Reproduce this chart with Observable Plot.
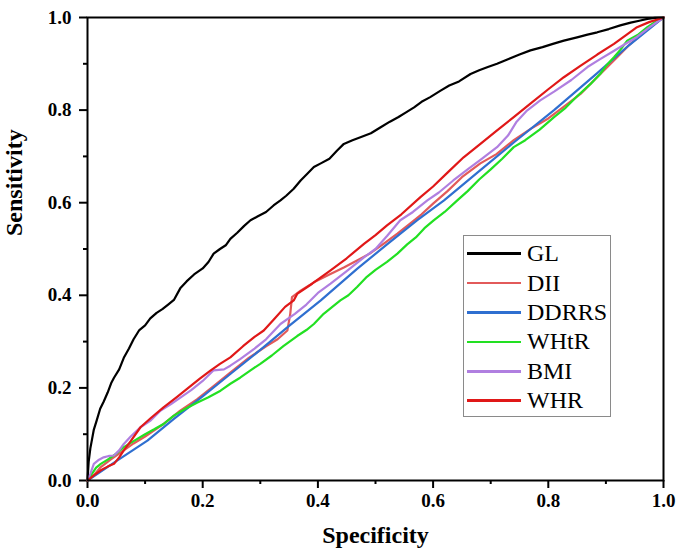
<!DOCTYPE html>
<html><head><meta charset="utf-8">
<script src="https://cdn.jsdelivr.net/npm/d3@7"></script>
<script src="https://cdn.jsdelivr.net/npm/@observablehq/plot@0.6"></script>
<style>
body{margin:0;background:#fff}
#wrap{position:relative;width:685px;height:559px}
#legend{position:absolute;left:463px;top:235px;width:148px;height:182px;border:1px solid #8a8a8a;box-sizing:border-box;padding-top:3px;background:#fff;font-family:"Liberation Serif",serif;font-size:24px;color:#000}
#legend .row{display:flex;align-items:center;height:29.4px}
#legend .sw{width:54px;height:2.5px;margin-left:3px;margin-right:6px}
</style>
</head><body><div id="wrap"></div>
<script>
const names = ["GL","DII","DDRRS","WHtR","BMI","WHR"];
const colors = ["#000000","#e25a5a","#2f6fd0","#22e022","#b07fe0","#e01818"];
const majorTicks = [0,0.2,0.4,0.6,0.8,1.0];
const minorTicks = [0.1,0.3,0.5,0.7,0.9];

const GL = [[0,0],[0.002,0.04],[0.005,0.07],[0.008,0.09],[0.011,0.11],[0.016,0.13],[0.022,0.155],[0.028,0.17],[0.035,0.19],[0.041,0.21],[0.046,0.222],[0.055,0.24],[0.063,0.265],[0.072,0.285],[0.08,0.305],[0.09,0.325],[0.1,0.335],[0.109,0.35],[0.12,0.362],[0.13,0.37],[0.14,0.38],[0.15,0.39],[0.161,0.415],[0.172,0.43],[0.185,0.445],[0.2,0.458],[0.21,0.472],[0.219,0.49],[0.23,0.5],[0.24,0.508],[0.248,0.522],[0.26,0.535],[0.272,0.55],[0.283,0.562],[0.295,0.57],[0.31,0.58],[0.323,0.594],[0.335,0.605],[0.345,0.615],[0.358,0.63],[0.37,0.648],[0.382,0.663],[0.393,0.677],[0.405,0.685],[0.42,0.695],[0.433,0.712],[0.445,0.727],[0.46,0.735],[0.475,0.742],[0.492,0.75],[0.509,0.763],[0.525,0.775],[0.54,0.785],[0.553,0.795],[0.567,0.806],[0.58,0.818],[0.595,0.828],[0.613,0.842],[0.628,0.853],[0.645,0.862],[0.665,0.878],[0.68,0.886],[0.695,0.893],[0.711,0.9],[0.73,0.91],[0.75,0.92],[0.769,0.929],[0.79,0.936],[0.808,0.943],[0.827,0.95],[0.85,0.957],[0.868,0.963],[0.885,0.968],[0.905,0.975],[0.925,0.983],[0.943,0.989],[0.958,0.993],[0.972,0.997],[0.985,0.999],[1,1]];
const DII = [[0,0],[0.01,0.01],[0.023,0.029],[0.04,0.045],[0.063,0.065],[0.08,0.08],[0.1,0.095],[0.13,0.12],[0.161,0.151],[0.19,0.175],[0.22,0.205],[0.25,0.235],[0.28,0.265],[0.31,0.29],[0.33,0.305],[0.347,0.324],[0.352,0.36],[0.355,0.396],[0.37,0.41],[0.393,0.428],[0.42,0.445],[0.445,0.46],[0.468,0.475],[0.49,0.49],[0.515,0.512],[0.538,0.533],[0.56,0.555],[0.58,0.575],[0.6,0.598],[0.625,0.625],[0.65,0.655],[0.682,0.685],[0.71,0.705],[0.74,0.735],[0.77,0.76],[0.8,0.782],[0.83,0.81],[0.856,0.835],[0.88,0.865],[0.9,0.89],[0.92,0.915],[0.94,0.94],[0.96,0.962],[0.98,0.982],[1,1]];
const DDRRS = [[0,0],[0.05,0.042],[0.104,0.086],[0.15,0.133],[0.202,0.184],[0.248,0.23],[0.3,0.282],[0.35,0.334],[0.405,0.389],[0.468,0.457],[0.52,0.51],[0.572,0.562],[0.619,0.605],[0.68,0.668],[0.74,0.73],[0.81,0.8],[0.885,0.88],[0.94,0.94],[0.97,0.97],[1,1]];
const WHtR = [[0,0],[0.008,0.015],[0.015,0.028],[0.023,0.036],[0.035,0.045],[0.05,0.058],[0.063,0.072],[0.08,0.085],[0.1,0.1],[0.115,0.11],[0.132,0.122],[0.15,0.14],[0.17,0.155],[0.19,0.168],[0.21,0.18],[0.231,0.194],[0.248,0.209],[0.265,0.222],[0.283,0.238],[0.3,0.252],[0.32,0.27],[0.34,0.29],[0.364,0.312],[0.38,0.325],[0.393,0.338],[0.41,0.36],[0.425,0.375],[0.439,0.389],[0.453,0.4],[0.468,0.418],[0.485,0.44],[0.5,0.455],[0.52,0.472],[0.538,0.49],[0.555,0.51],[0.57,0.525],[0.585,0.545],[0.601,0.562],[0.62,0.58],[0.642,0.605],[0.66,0.625],[0.68,0.65],[0.7,0.672],[0.72,0.695],[0.74,0.72],[0.76,0.735],[0.785,0.758],[0.81,0.785],[0.83,0.805],[0.85,0.83],[0.873,0.856],[0.89,0.878],[0.9,0.895],[0.914,0.914],[0.925,0.93],[0.937,0.95],[0.955,0.962],[0.972,0.979],[0.985,0.99],[1,1]];
const BMI = [[0,0],[0.005,0.015],[0.011,0.036],[0.02,0.045],[0.028,0.05],[0.037,0.053],[0.046,0.054],[0.055,0.065],[0.063,0.079],[0.075,0.095],[0.092,0.115],[0.11,0.13],[0.127,0.151],[0.145,0.165],[0.16,0.178],[0.18,0.195],[0.2,0.215],[0.219,0.238],[0.237,0.24],[0.248,0.248],[0.265,0.262],[0.29,0.285],[0.31,0.305],[0.335,0.338],[0.36,0.36],[0.38,0.38],[0.4,0.405],[0.422,0.425],[0.45,0.452],[0.48,0.482],[0.5,0.5],[0.52,0.528],[0.543,0.562],[0.565,0.58],[0.59,0.605],[0.61,0.622],[0.635,0.648],[0.66,0.672],[0.685,0.695],[0.711,0.72],[0.73,0.745],[0.745,0.775],[0.763,0.799],[0.786,0.821],[0.81,0.84],[0.84,0.865],[0.868,0.893],[0.89,0.91],[0.91,0.925],[0.93,0.94],[0.954,0.958],[0.975,0.978],[1,1]];
const WHR = [[0,0],[0.01,0.01],[0.023,0.022],[0.035,0.03],[0.046,0.036],[0.055,0.05],[0.063,0.065],[0.075,0.085],[0.092,0.115],[0.11,0.135],[0.132,0.158],[0.155,0.18],[0.175,0.2],[0.195,0.22],[0.214,0.238],[0.23,0.252],[0.248,0.266],[0.27,0.29],[0.29,0.31],[0.306,0.324],[0.325,0.35],[0.343,0.375],[0.358,0.389],[0.364,0.403],[0.39,0.425],[0.422,0.454],[0.45,0.48],[0.48,0.511],[0.5,0.53],[0.52,0.551],[0.545,0.575],[0.578,0.612],[0.6,0.635],[0.625,0.665],[0.653,0.698],[0.68,0.725],[0.71,0.755],[0.74,0.785],[0.77,0.815],[0.8,0.845],[0.827,0.871],[0.855,0.895],[0.885,0.92],[0.914,0.943],[0.935,0.962],[0.954,0.979],[0.975,0.99],[1,1]];

const series = [GL, DII, DDRRS, WHtR, BMI, WHR];
const rows = series.flatMap((pts, i) => pts.map(([x, y]) => ({name: names[i], x, y})));

const chart = Plot.plot({
  width: 685, height: 559,
  marginLeft: 87, marginRight: 22, marginTop: 17, marginBottom: 79,
  x: {domain: [0, 1]},
  y: {domain: [0, 1]},
  color: {domain: names, range: colors},
  style: {fontFamily: "'Liberation Serif', serif", fontSize: "19px", fontWeight: "bold", background: "#fff", color: "#000"},
  marks: [
    Plot.axisX(majorTicks, {tickSize: 8, tickPadding: 5, fontSize: 19, fontWeight: "bold", tickFormat: d => d.toFixed(1), strokeWidth: 2, label: null}),
    Plot.axisX(minorTicks, {tickSize: 4, text: null, strokeWidth: 2, label: null}),
    Plot.axisY(majorTicks, {tickSize: 8, tickPadding: 8, fontSize: 19, fontWeight: "bold", tickFormat: d => d.toFixed(1), strokeWidth: 2, label: null}),
    Plot.axisY(minorTicks, {tickSize: 4, text: null, strokeWidth: 2, label: null}),
    Plot.line(rows, {x: "x", y: "y", z: "name", stroke: "name", strokeWidth: 2.2}),
    Plot.frame({stroke: "#000", strokeWidth: 2}),
    Plot.text(["Specificity"], {frameAnchor: "bottom", dy: 62, fontSize: 24, fontWeight: "bold"}),
    Plot.text(["Sensitivity"], {frameAnchor: "left", dx: -73, dy: -13, rotate: -90, fontSize: 24, fontWeight: "bold"})
  ]
});
const wrap = document.getElementById("wrap");
wrap.appendChild(chart);

const legend = document.createElement("div");
legend.id = "legend";
names.forEach((n, i) => {
  const r = document.createElement("div"); r.className = "row";
  const s = document.createElement("span"); s.className = "sw"; s.style.background = colors[i];
  const t = document.createElement("span"); t.textContent = n;
  r.appendChild(s); r.appendChild(t); legend.appendChild(r);
});
wrap.appendChild(legend);
</script>
</body></html>
